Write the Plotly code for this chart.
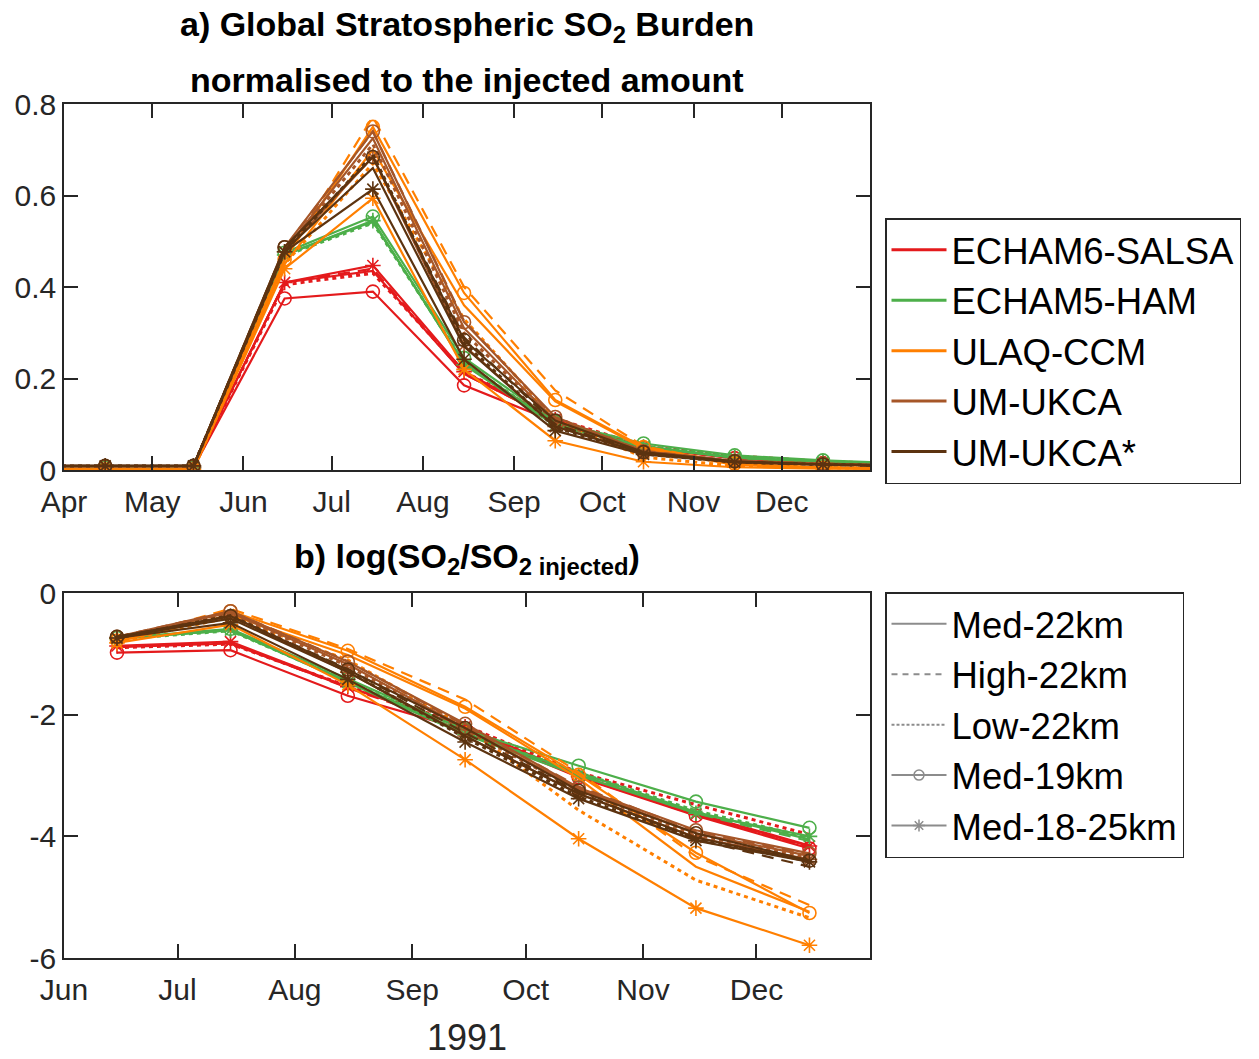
import plotly.graph_objects as go

FONT = "Liberation Sans, Arial, sans-serif"
# the page body has an 8px margin, so the figure is drawn from (8, 8)
OFFSET = 8
FIG_W, FIG_H = 1259 - OFFSET, 1059 - OFFSET

models = ["ECHAM6-SALSA", "ECHAM5-HAM", "ULAQ-CCM", "UM-UKCA", "UM-UKCA*"]
model_colors = ["#e41a1c", "#4daf4a", "#ff7f00", "#a65628", "#5c3310"]
scenarios = ["Med-22km", "High-22km", "Low-22km", "Med-19km", "Med-18-25km"]

# panel a: mid-month values, Mar 1991 .. Jan 1992 (normalised burden)
dates_a = ["1991-03-15", "1991-04-15", "1991-05-15", "1991-06-15", "1991-07-15",
           "1991-08-15", "1991-09-15", "1991-10-15", "1991-11-15", "1991-12-15",
           "1992-01-15"]
month_ticks_a = ["1991-04-01", "1991-05-01", "1991-06-01", "1991-07-01", "1991-08-01",
                 "1991-09-01", "1991-10-01", "1991-11-01", "1991-12-01"]
month_labels_a = ["Apr", "May", "Jun", "Jul", "Aug", "Sep", "Oct", "Nov", "Dec"]

# rows: Med-22km, High-22km, Low-22km, Med-19km, Med-18-25km
salsa_a = [
    [0.005, 0.005, 0.005, 0.410, 0.435, 0.210, 0.110, 0.050, 0.027, 0.016, 0.010],
    [0.005, 0.005, 0.005, 0.410, 0.440, 0.210, 0.110, 0.049, 0.026, 0.015, 0.010],
    [0.005, 0.005, 0.005, 0.405, 0.430, 0.215, 0.113, 0.052, 0.031, 0.019, 0.012],
    [0.005, 0.005, 0.005, 0.375, 0.390, 0.185, 0.105, 0.048, 0.026, 0.015, 0.010],
    [0.005, 0.005, 0.005, 0.410, 0.447, 0.215, 0.110, 0.049, 0.026, 0.016, 0.010],
]
ham_a = [
    [0.005, 0.005, 0.005, 0.470, 0.543, 0.235, 0.100, 0.052, 0.027, 0.017, 0.011],
    [0.005, 0.005, 0.005, 0.470, 0.543, 0.232, 0.098, 0.051, 0.027, 0.017, 0.011],
    [0.005, 0.005, 0.005, 0.468, 0.540, 0.235, 0.100, 0.052, 0.028, 0.018, 0.012],
    [0.005, 0.005, 0.005, 0.475, 0.554, 0.245, 0.105, 0.058, 0.032, 0.021, 0.014],
    [0.005, 0.005, 0.005, 0.470, 0.545, 0.230, 0.097, 0.050, 0.027, 0.018, 0.012],
]
ulaq_a = [
    [0.001, 0.001, 0.001, 0.450, 0.700, 0.360, 0.150, 0.047, 0.011, 0.005, 0.003],
    [0.001, 0.001, 0.001, 0.460, 0.772, 0.400, 0.174, 0.052, 0.013, 0.006, 0.003],
    [0.001, 0.001, 0.001, 0.450, 0.670, 0.330, 0.110, 0.028, 0.009, 0.005, 0.003],
    [0.001, 0.001, 0.001, 0.460, 0.750, 0.387, 0.153, 0.050, 0.014, 0.005, 0.003],
    [0.001, 0.001, 0.001, 0.440, 0.594, 0.220, 0.064, 0.018, 0.006, 0.003, 0.002],
]
ukca_a = [
    [0.008, 0.008, 0.008, 0.480, 0.725, 0.310, 0.108, 0.040, 0.019, 0.013, 0.009],
    [0.008, 0.008, 0.008, 0.485, 0.740, 0.326, 0.113, 0.042, 0.020, 0.014, 0.009],
    [0.008, 0.008, 0.008, 0.477, 0.712, 0.300, 0.105, 0.039, 0.019, 0.013, 0.009],
    [0.008, 0.008, 0.008, 0.487, 0.740, 0.323, 0.116, 0.041, 0.020, 0.014, 0.009],
    [0.008, 0.008, 0.008, 0.477, 0.684, 0.272, 0.095, 0.037, 0.018, 0.012, 0.009],
]
ukca_star_a = [
    [0.009, 0.009, 0.009, 0.480, 0.660, 0.270, 0.095, 0.037, 0.018, 0.012, 0.009],
    [0.009, 0.009, 0.009, 0.485, 0.684, 0.290, 0.100, 0.038, 0.017, 0.011, 0.008],
    [0.009, 0.009, 0.009, 0.477, 0.690, 0.278, 0.093, 0.035, 0.017, 0.012, 0.009],
    [0.009, 0.009, 0.009, 0.487, 0.684, 0.284, 0.108, 0.039, 0.019, 0.012, 0.009],
    [0.009, 0.009, 0.009, 0.477, 0.614, 0.242, 0.086, 0.034, 0.017, 0.012, 0.009],
]

# panel b: log(SO2/SO2 injected), Jun .. Dec 1991
dates_b = ["1991-06-15", "1991-07-15", "1991-08-15", "1991-09-15",
           "1991-10-15", "1991-11-15", "1991-12-15"]
month_ticks_b = ["1991-06-01", "1991-07-01", "1991-08-01", "1991-09-01",
                 "1991-10-01", "1991-11-01", "1991-12-01"]
month_labels_b = ["Jun", "Jul", "Aug", "Sep", "Oct", "Nov", "Dec"]

salsa_b = [
    [-0.89, -0.83, -1.55, -2.20, -3.00, -3.62, -4.15],
    [-0.88, -0.82, -1.56, -2.22, -3.02, -3.65, -4.18],
    [-0.90, -0.84, -1.53, -2.18, -2.95, -3.48, -3.97],
    [-0.98, -0.94, -1.69, -2.25, -3.03, -3.66, -4.20],
    [-0.87, -0.80, -1.54, -2.20, -3.02, -3.64, -4.16],
]
ham_b = [
    [-0.75, -0.61, -1.45, -2.30, -2.95, -3.60, -4.05],
    [-0.75, -0.61, -1.46, -2.32, -2.98, -3.62, -4.08],
    [-0.76, -0.62, -1.45, -2.30, -2.95, -3.58, -4.02],
    [-0.74, -0.59, -1.41, -2.25, -2.84, -3.43, -3.86],
    [-0.75, -0.61, -1.47, -2.33, -3.00, -3.62, -4.00],
]
ulaq_b = [
    [-0.80, -0.36, -1.02, -1.90, -3.05, -4.50, -5.24],
    [-0.78, -0.26, -0.92, -1.75, -2.95, -4.33, -5.13],
    [-0.80, -0.40, -1.10, -2.20, -3.57, -4.72, -5.34],
    [-0.78, -0.30, -0.95, -1.87, -2.99, -4.27, -5.26],
    [-0.82, -0.52, -1.51, -2.74, -4.04, -5.18, -5.79],
]
ukca_b = [
    [-0.73, -0.32, -1.17, -2.22, -3.22, -3.95, -4.32],
    [-0.72, -0.30, -1.12, -2.18, -3.18, -3.92, -4.30],
    [-0.74, -0.34, -1.20, -2.25, -3.25, -3.98, -4.35],
    [-0.72, -0.30, -1.13, -2.15, -3.20, -3.90, -4.28],
    [-0.74, -0.38, -1.30, -2.35, -3.30, -4.02, -4.38],
]
ukca_star_b = [
    [-0.73, -0.42, -1.30, -2.35, -3.30, -4.02, -4.42],
    [-0.72, -0.38, -1.25, -2.30, -3.28, -4.05, -4.50],
    [-0.74, -0.37, -1.28, -2.38, -3.35, -4.05, -4.40],
    [-0.72, -0.38, -1.26, -2.22, -3.25, -3.95, -4.40],
    [-0.74, -0.49, -1.42, -2.45, -3.38, -4.07, -4.42],
]

panel_a = [salsa_a, ham_a, ulaq_a, ukca_a, ukca_star_a]
panel_b = [salsa_b, ham_b, ulaq_b, ukca_b, ukca_star_b]

dashes = ["solid", "12px,8px", "4px,4px", "solid", "solid"]
widths = [2.2, 2.2, 3, 2.2, 2.2]
symbols = [None, None, None, "circle-open", "asterisk-open"]


def px_x(x):
    return (x - OFFSET) / FIG_W


def px_y(y):
    return 1 - (y - OFFSET) / FIG_H


def add_series(fig, x, y, color, j, xa, ya):
    sym = symbols[j]
    fig.add_trace(go.Scatter(
        x=x, y=y,
        mode="lines+markers" if sym else "lines",
        line={"color": color, "width": widths[j], "dash": dashes[j]},
        marker={"symbol": sym, "size": 13, "color": color,
                "line": {"color": color, "width": 1.6}} if sym else None,
        xaxis=xa, yaxis=ya,
        showlegend=False,
        hoverinfo="skip",
    ))


fig = go.Figure()

for i, color in enumerate(model_colors):
    for j in range(len(scenarios)):
        add_series(fig, dates_a, panel_a[i][j], color, j, "x", "y")
        add_series(fig, dates_b, panel_b[i][j], color, j, "x2", "y2")

# legend entries (models by colour, scenarios by line style)
for name, color in zip(models, model_colors):
    fig.add_trace(go.Scatter(
        x=[None], y=[None], mode="lines", name=name,
        line={"color": color, "width": 3},
        legend="legend",
    ))
for j, name in enumerate(scenarios):
    sym = symbols[j]
    fig.add_trace(go.Scatter(
        x=[None], y=[None], mode="lines+markers" if sym else "lines", name=name,
        line={"color": "#8c8c8c", "width": 2,
              "dash": ["solid", "6px,5px", "3px,2px", "solid", "solid"][j]},
        marker={"symbol": sym, "size": 10, "color": "#8c8c8c",
                "line": {"color": "#8c8c8c", "width": 1.5}} if sym else None,
        legend="legend2",
    ))

axis_common = dict(
    showline=True, linecolor="#262626", linewidth=1.5, mirror="ticks",
    ticks="inside", ticklen=14, tickwidth=1.5, tickcolor="#262626",
    showgrid=False, zeroline=False, automargin=False,
    tickfont={"family": FONT, "size": 30, "color": "#262626"},
)

x_dom = [px_x(64), px_x(870)]

fig.update_layout(
    width=FIG_W, height=FIG_H,
    margin={"l": 0, "r": 0, "t": 0, "b": 0},
    paper_bgcolor="white", plot_bgcolor="white",
    font={"family": FONT, "color": "#262626"},
    xaxis=dict(axis_common, domain=x_dom, anchor="y", type="date",
               range=["1991-04-01", "1991-12-31"], ticklabelstandoff=4,
               tickvals=month_ticks_a, ticktext=month_labels_a),
    yaxis=dict(axis_common, domain=[px_y(470), px_y(104)], anchor="x",
               range=[0, 0.8], tickvals=[0, 0.2, 0.4, 0.6, 0.8],
               ticktext=["0", "0.2", "0.4", "0.6", "0.8"]),
    xaxis2=dict(axis_common, domain=x_dom, anchor="y2", type="date",
                range=["1991-06-01", "1991-12-31"], ticklabelstandoff=4,
                tickvals=month_ticks_b, ticktext=month_labels_b),
    yaxis2=dict(axis_common, domain=[px_y(958), px_y(593)], anchor="x2",
                range=[-6, 0], tickvals=[-6, -4, -2, 0],
                ticktext=["-6", "-4", "-2", "0"]),
    legend=dict(
        x=px_x(885), y=px_y(218), xanchor="left", yanchor="top",
        bgcolor="white", bordercolor="#262626", borderwidth=1.5,
        font={"family": FONT, "size": 36.5, "color": "black"},
        itemwidth=55, tracegroupgap=0,
    ),
    legend2=dict(
        x=px_x(885), y=px_y(592), xanchor="left", yanchor="top",
        bgcolor="white", bordercolor="#262626", borderwidth=1.5,
        font={"family": FONT, "size": 36.5, "color": "black"},
        itemwidth=55, tracegroupgap=0,
    ),
    showlegend=True,
)

title_x = px_x(467)
fig.add_annotation(
    text="<b>a) Global Stratospheric SO<sub>2</sub> Burden</b>",
    x=title_x, y=px_y(27), xref="paper", yref="paper",
    xanchor="center", yanchor="middle", showarrow=False,
    font={"family": FONT, "size": 34, "color": "black"},
)
fig.add_annotation(
    text="<b>normalised to the injected amount</b>",
    x=title_x, y=px_y(80), xref="paper", yref="paper",
    xanchor="center", yanchor="middle", showarrow=False,
    font={"family": FONT, "size": 34, "color": "black"},
)
fig.add_annotation(
    text="<b>b) log(SO<sub>2</sub>/SO<sub>2 injected</sub>)</b>",
    x=title_x, y=px_y(558), xref="paper", yref="paper",
    xanchor="center", yanchor="middle", showarrow=False,
    font={"family": FONT, "size": 34, "color": "black"},
)
fig.add_annotation(
    text="1991",
    x=title_x, y=px_y(1037), xref="paper", yref="paper",
    xanchor="center", yanchor="middle", showarrow=False,
    font={"family": FONT, "size": 36, "color": "#262626"},
)

fig.write_html("out.html")
